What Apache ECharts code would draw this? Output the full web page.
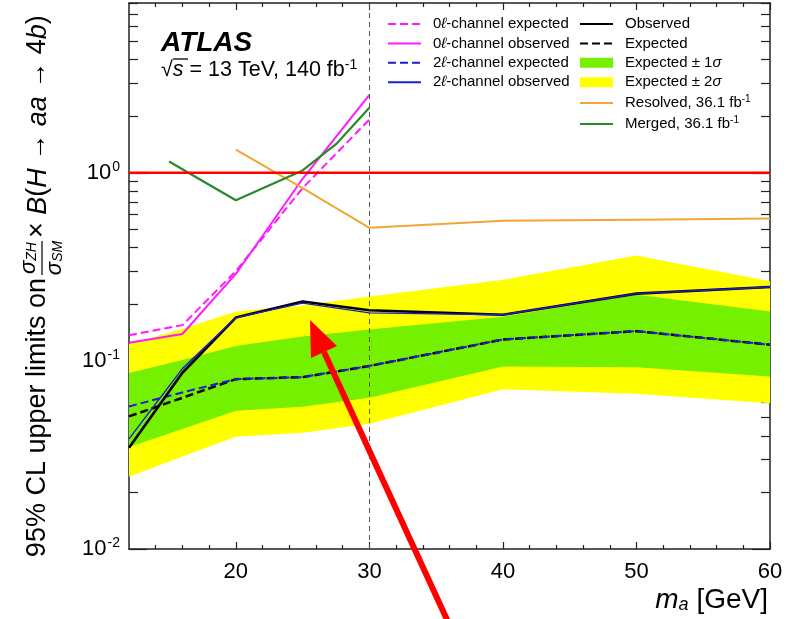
<!DOCTYPE html>
<html>
<head>
<meta charset="utf-8">
<script src="https://cdn.jsdelivr.net/npm/echarts@6/dist/echarts.min.js"></script>
<style>
html, body { margin: 0; padding: 0; background: #fff; }
#chart { width: 794px; height: 619px; }
</style>
</head>
<body>
<div id="chart"></div>
<script>
// ---- data (m_a in GeV) ----
const massComb = [12, 16, 20, 25, 30, 40, 50, 60];
const mass0l = [12, 16, 20, 25, 30];
const massResolved = [20, 25, 30, 40, 50, 60];
const massMerged = [15, 20, 25, 27.5, 30];

const obsComb = [0.0345, 0.0865, 0.170, 0.207, 0.186, 0.176, 0.228, 0.247];
const expComb = [0.0507, 0.0637, 0.080, 0.082, 0.094, 0.130, 0.144, 0.122];
const obs2l = [0.0385, 0.091, 0.170, 0.203, 0.180, 0.176, 0.228, 0.247];
const exp2l = [0.0573, 0.068, 0.080, 0.082, 0.094, 0.130, 0.144, 0.122];
const obs0l = [0.125, 0.139, 0.29, 0.93, 2.6];
const exp0l = [0.137, 0.155, 0.30, 0.83, 1.92];

const sig1Lo = [0.0349, 0.0435, 0.0543, 0.0571, 0.0637, 0.0935, 0.0925, 0.0827];
const sig1Hi = [0.0862, 0.101, 0.120, 0.135, 0.147, 0.172, 0.225, 0.183];
const sig2Lo = [0.0242, 0.031, 0.0395, 0.0415, 0.0463, 0.0708, 0.067, 0.0595];
const sig2Hi = [0.123, 0.148, 0.183, 0.197, 0.220, 0.270, 0.363, 0.265];

const resolved361 = [1.33, 0.83, 0.51, 0.557, 0.564, 0.571];
const merged361 = [1.15, 0.715, 1.03, 1.42, 2.22];

const unityX = [12, 60];
const unityY = [1, 1];

// axis ticks
const xMajor = [20, 30, 40, 50, 60];
const xMinor = [14, 16, 18, 22, 24, 26, 28, 32, 34, 36, 38, 42, 44, 46, 48, 52, 54, 56, 58];
const yMajor = [0.01, 0.1, 1];
const yMinor = [0.02, 0.03, 0.04, 0.05, 0.06, 0.07, 0.08, 0.09,
  0.2, 0.3, 0.4, 0.5, 0.6, 0.7, 0.8, 0.9, 2, 3, 4, 5, 6, 7, 8];

const FONT = '"Liberation Sans", Arimo, Arial, Helvetica, sans-serif';
const MAGENTA = '#ff1aff';
const BLUE = '#1c1cd6';
const ORANGE = '#f2a634';
const DKGREEN = '#2a8a2a';
const GREEN = '#74f000';
const YELLOW = '#ffff00';

function pairs(xs, ys) { return xs.map((x, i) => [x, ys[i]]); }

function line(name, xs, ys, color, width, dashed) {
  return {
    name, type: 'line', data: pairs(xs, ys), symbol: 'none', silent: true,
    color, lineStyle: { color, width, type: dashed ? [8, 4] : 'solid' },
    animation: false
  };
}

function band(name, lo, hi, color) {
  return {
    name, type: 'custom', coordinateSystem: 'cartesian2d', silent: true, clip: true,
    color, itemStyle: { color }, animation: false,
    data: [[massComb[0], expComb[0]]],
    renderItem: function (params, api) {
      const pts = [];
      for (let i = 0; i < massComb.length; i++) pts.push(api.coord([massComb[i], hi[i]]));
      for (let i = massComb.length - 1; i >= 0; i--) pts.push(api.coord([massComb[i], lo[i]]));
      return { type: 'polygon', shape: { points: pts }, style: { fill: color } };
    }
  };
}

function xAxisDef(position, ticks, len, labels) {
  return {
    type: 'value', position, min: 12, max: 60, gridIndex: 0,
    axisLine: { show: labels, onZero: false, lineStyle: { color: '#222', width: 1.5 } },
    axisTick: { show: true, inside: true, length: len, customValues: ticks, lineStyle: { color: '#222', width: 1.2 } },
    axisLabel: labels && position === 'bottom'
      ? { show: true, customValues: xMajor, fontSize: 22, fontFamily: FONT, color: '#000', margin: 12 }
      : { show: false },
    splitLine: { show: false }
  };
}

function yAxisDef(position, ticks, len, labels) {
  return {
    type: 'log', logBase: 10, position, min: 0.01, max: 8, gridIndex: 0,
    axisLine: { show: labels, onZero: false, lineStyle: { color: '#222', width: 1.5 } },
    axisTick: { show: true, inside: true, length: len, customValues: ticks, lineStyle: { color: '#222', width: 1.2 } },
    axisLabel: labels && position === 'left'
      ? {
          show: true, customValues: yMajor, margin: 9, color: '#000', fontFamily: FONT,
          formatter: function (v) { return '{b|10}{s|' + Math.round(Math.log10(v)) + '}'; },
          rich: {
            b: { fontSize: 22, fontFamily: FONT, color: '#000' },
            s: { fontSize: 14, fontFamily: FONT, color: '#000', padding: [0, 0, 12, 1] }
          }
        }
      : { show: false },
    splitLine: { show: false }
  };
}

const chart = echarts.init(document.getElementById('chart'), null, { renderer: 'canvas' });

const legendText = {
  fontSize: 15, fontFamily: FONT, color: '#000', padding: [0, 0, 0, 7],
  rich: {
    i: { fontStyle: 'italic', fontSize: 15, fontFamily: FONT },
    sup: { fontSize: 10, fontFamily: FONT, padding: [0, 0, 8, 0] }
  }
};
function legendFmt(name) {
  return name.replace('ℓ', '{i|ℓ}').replace('σ', '{i|σ}').replace(/fb-1$/, 'fb{sup|-1}');
}
// hide the marker dot on line icons; keep the filled boxes for bands
const boxStyle = { opacity: 1 };

chart.setOption({
  backgroundColor: '#fff',
  animation: false,
  grid: { left: 129, right: 24, top: 3, bottom: 70, containLabel: false, outerBoundsMode: 'none' },
  xAxis: [
    xAxisDef('bottom', xMajor, 7, true),
    xAxisDef('bottom', xMinor, 4, false),
    xAxisDef('top', xMajor, 7, true),
    xAxisDef('top', xMinor, 4, false)
  ],
  yAxis: [
    yAxisDef('left', yMajor, 18, true),
    yAxisDef('left', yMinor, 9, false),
    yAxisDef('right', yMajor, 18, true),
    yAxisDef('right', yMinor, 9, false)
  ],
  legend: [
    {
      left: 382, top: 11.5, orient: 'vertical', itemWidth: 33, itemHeight: 10, itemGap: 4.4,
      selectedMode: false, textStyle: legendText, formatter: legendFmt,
      itemStyle: { opacity: 0 },
      data: ['0ℓ-channel expected', '0ℓ-channel observed', '2ℓ-channel expected', '2ℓ-channel observed']
    },
    {
      left: 574, top: 11.5, orient: 'vertical', itemWidth: 33, itemHeight: 10, itemGap: 4.4,
      selectedMode: false, textStyle: legendText, formatter: legendFmt,
      itemStyle: { opacity: 0 },
      data: ['Observed', 'Expected',
        { name: 'Expected ± 1σ', icon: 'rect', itemStyle: boxStyle },
        { name: 'Expected ± 2σ', icon: 'rect', itemStyle: boxStyle },
        'Resolved, 36.1 fb-1', 'Merged, 36.1 fb-1']
    }
  ],
  series: [
    band('Expected ± 2σ', sig2Lo, sig2Hi, YELLOW),
    band('Expected ± 1σ', sig1Lo, sig1Hi, GREEN),
    line('Expected', massComb, expComb, '#000', 2.5, true),
    line('2ℓ-channel expected', massComb, exp2l, BLUE, 2, true),
    line('Observed', massComb, obsComb, '#000', 2.6, false),
    line('2ℓ-channel observed', massComb, obs2l, BLUE, 1.4, false),
    line('0ℓ-channel expected', mass0l, exp0l, MAGENTA, 2, true),
    line('0ℓ-channel observed', mass0l, obs0l, MAGENTA, 2, false),
    line('Resolved, 36.1 fb-1', massResolved, resolved361, ORANGE, 2, false),
    line('Merged, 36.1 fb-1', massMerged, merged361, DKGREEN, 2.2, false),
    Object.assign(line('unity', unityX, unityY, '#ff0000', 2.5, false), {
      markLine: {
        silent: true, symbol: 'none', animation: false, label: { show: false },
        lineStyle: { color: '#555', width: 1, type: [5, 4] },
        data: [{ xAxis: 30 }]
      }
    })
  ],
  graphic: [
    { type: 'text', left: 161, top: 29, style: { text: 'ATLAS', font: 'italic bold 28px ' + FONT, fill: '#000' } },
    {
      type: 'text', x: 161, y: 70,
      style: {
        text: '√{i|s} = 13 TeV, 140 fb{sup|-1}', font: '21.5px ' + FONT, fill: '#000', verticalAlign: 'middle',
        rich: {
          i: { fontStyle: 'italic', fontSize: 21.5, fontFamily: FONT },
          sup: { fontSize: 14, fontFamily: FONT, padding: [0, 0, 10, 0] }
        }
      }
    },
    { type: 'line', shape: { x1: 173, y1: 59, x2: 188, y2: 59 }, style: { stroke: '#000', lineWidth: 1.3 } },
    {
      type: 'group', x: 38, y: 258, rotation: Math.PI / 2,
      children: [
        { type: 'text', x: -20, y: 0, style: { text: '95% CL upper limits on', font: '27px ' + FONT, fill: '#000', align: 'right', verticalAlign: 'middle' } },
        { type: 'line', shape: { x1: -17, y1: 4, x2: 17, y2: 4 }, style: { stroke: '#000', lineWidth: 1.2 } },
        {
          type: 'text', x: 0, y: 2,
          style: { text: '{s|σ}{b|ZH}', align: 'center', verticalAlign: 'bottom', fill: '#000',
            rich: { s: { fontSize: 22, fontStyle: 'italic', fontFamily: FONT }, b: { fontSize: 14, fontStyle: 'italic', fontFamily: FONT, padding: [6, 0, 0, 0] } } }
        },
        {
          type: 'text', x: 0, y: 6,
          style: { text: '{s|σ}{b|SM}', align: 'center', verticalAlign: 'top', fill: '#000',
            rich: { s: { fontSize: 22, fontStyle: 'italic', fontFamily: FONT }, b: { fontSize: 14, fontStyle: 'italic', fontFamily: FONT, padding: [6, 0, 0, 0] } } }
        },
        {
          type: 'text', x: 20, y: 0,
          style: { text: '× {i|B}({i|H} → {i|aa} → 4{i|b})', font: '27px ' + FONT, fill: '#000', align: 'left', verticalAlign: 'middle',
            rich: { i: { fontStyle: 'italic', fontSize: 27, fontFamily: FONT } } }
        }
      ]
    },
    {
      type: 'text', right: 26, top: 586,
      style: { text: '{i|m}{s|a} [GeV]', font: '28px ' + FONT, fill: '#000',
        rich: { i: { fontStyle: 'italic', fontSize: 28, fontFamily: FONT }, s: { fontStyle: 'italic', fontSize: 18, fontFamily: FONT, padding: [9, 0, 0, 0] } } }
    },
    // red annotation arrow
    { type: 'line', shape: { x1: 449, y1: 624, x2: 324, y2: 352 }, style: { stroke: '#ff0000', lineWidth: 6 }, z: 100 },
    { type: 'polygon', shape: { points: [[310, 320], [337, 346], [311, 358]] }, style: { fill: '#ff0000' }, z: 100 }
  ]
});
</script>
</body>
</html>
